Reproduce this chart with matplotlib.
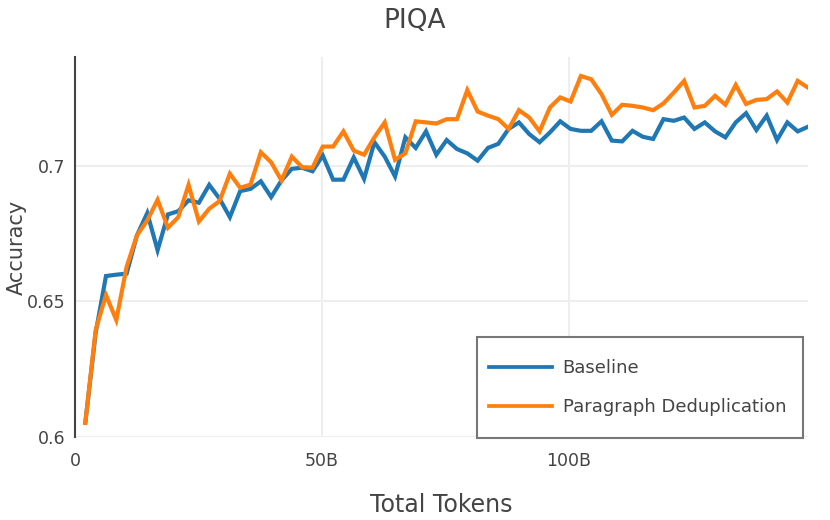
import matplotlib
matplotlib.use("Agg")
import matplotlib.pyplot as plt
from matplotlib.patches import Rectangle
from matplotlib.ticker import FuncFormatter

plt.rcParams['font.family'] = ['DejaVu Sans']

# tokens seen (billions) at each evaluation step
tokens_b = [2.09, 4.18, 6.27, 8.36, 10.45, 12.54, 14.63, 16.72, 18.81, 20.9,
            22.99, 25.08, 27.17, 29.26, 31.35, 33.44, 35.53, 37.62, 39.71, 41.8,
            43.89, 45.98, 48.07, 50.16, 52.25, 54.34, 56.43, 58.52, 60.61, 62.7,
            64.79, 66.88, 68.97, 71.06, 73.15, 75.24, 77.33, 79.42, 81.51, 83.6,
            85.69, 87.78, 89.87, 91.96, 94.05, 96.14, 98.23, 100.32, 102.41, 104.5,
            106.59, 108.68, 110.77, 112.86, 114.95, 117.04, 119.13, 121.22, 123.31, 125.4,
            127.49, 129.58, 131.67, 133.76, 135.85, 137.94, 140.03, 142.12, 144.21, 146.3,
            148.39]

baseline = [0.6053, 0.6383, 0.6593, 0.6598, 0.6602, 0.6743, 0.6825, 0.6688, 0.6820, 0.6832,
            0.6872, 0.6863, 0.6929, 0.6878, 0.6810, 0.6906, 0.6914, 0.6942, 0.6884, 0.6945,
            0.6988, 0.6992, 0.6979, 0.7037, 0.6948, 0.6948, 0.7030, 0.6951, 0.7086, 0.7033,
            0.6960, 0.7104, 0.7065, 0.7126, 0.7040, 0.7094, 0.7061, 0.7045, 0.7018, 0.7065,
            0.7080, 0.7135, 0.7159, 0.7116, 0.7086, 0.7122, 0.7163, 0.7135, 0.7128, 0.7128,
            0.7163, 0.7092, 0.7089, 0.7128, 0.7106, 0.7098, 0.7171, 0.7165, 0.7177, 0.7135,
            0.7159, 0.7126, 0.7104, 0.7159, 0.7193, 0.7131, 0.7184, 0.7094, 0.7159, 0.7126,
            0.7143]

para_dedup = [0.6052, 0.6394, 0.6523, 0.6431, 0.6627, 0.6743, 0.6798, 0.6874, 0.6771, 0.6810,
              0.6929, 0.6794, 0.6841, 0.6869, 0.6970, 0.6918, 0.6930, 0.7049, 0.7012, 0.6945,
              0.7033, 0.6994, 0.6992, 0.7070, 0.7070, 0.7126, 0.7055, 0.7040, 0.7104, 0.7159,
              0.7021, 0.7045, 0.7163, 0.7159, 0.7155, 0.7171, 0.7171, 0.7278, 0.7199, 0.7184,
              0.7171, 0.7135, 0.7204, 0.7177, 0.7126, 0.7214, 0.7251, 0.7236, 0.7330, 0.7318,
              0.7263, 0.7187, 0.7224, 0.7220, 0.7214, 0.7204, 0.7229, 0.7269, 0.7312, 0.7214,
              0.7220, 0.7257, 0.7224, 0.7297, 0.7227, 0.7242, 0.7245, 0.7273, 0.7232, 0.7312,
              0.7287]

x_ticks = [0, 50, 100]
y_ticks = [0.6, 0.65, 0.7]

text_color = '#444444'

fig = plt.figure(figsize=(8.3, 5.2), dpi=100)
ax = fig.add_axes([75 / 830, 1 - 437 / 520, 733 / 830, 380 / 520])

ax.plot(tokens_b, baseline, color='#1f77b4', linewidth=3, label='Baseline',
        solid_joinstyle='miter')
ax.plot(tokens_b, para_dedup, color='#ff7f0e', linewidth=3, label='Paragraph Deduplication',
        solid_joinstyle='miter')

ax.set_xlim(0, tokens_b[-1])
ax.set_ylim(0.6, 0.74)
ax.set_xticks(x_ticks)
ax.set_yticks(y_ticks)
ax.xaxis.set_major_formatter(FuncFormatter(lambda v, p: '0' if v == 0 else f'{v:g}B'))
ax.yaxis.set_major_formatter(FuncFormatter(lambda v, p: f'{v:g}'))

ax.grid(True, color='#eeeeee', linewidth=1.5)
ax.set_axisbelow(True)
for side in ['top', 'right', 'bottom']:
    ax.spines[side].set_visible(False)
ax.spines['left'].set_color(text_color)
ax.spines['left'].set_linewidth(1.5)
ax.tick_params(axis='both', length=0, labelsize=12.5, labelcolor=text_color)
ax.tick_params(axis='y', pad=7)
ax.tick_params(axis='x', pad=11)

ax.set_xlabel('Total Tokens', fontsize=17, color=text_color)
ax.xaxis.set_label_coords(0.5, -0.18)
ax.xaxis.label.set_va('center')
ax.set_ylabel('Accuracy', fontsize=15, color=text_color)
ax.yaxis.set_label_coords(-0.08, 0.5)
ax.yaxis.label.set_va('center')

fig.text(0.5, 1 - 28 / 520, 'PIQA', ha='center', va='baseline', fontsize=19, color=text_color)

# legend box (plotly style: square frame, wide padding)
box_x0, box_x1 = 0.5489, 0.9936
box_y0, box_y1 = -0.0034, 0.2639
ax.add_patch(Rectangle((box_x0, box_y0), box_x1 - box_x0, box_y1 - box_y0,
                       transform=ax.transAxes, facecolor='white', edgecolor='#777777',
                       linewidth=1.5, zorder=4, clip_on=False))
leg = ax.legend(loc='center', bbox_to_anchor=((box_x0 + box_x1) / 2 - 0.004, (box_y0 + box_y1) / 2),
                borderaxespad=0, fontsize=13, handlelength=3.5, handletextpad=0.6,
                borderpad=0, labelspacing=1.15, frameon=False)
leg.set_zorder(5)
for t in leg.get_texts():
    t.set_color(text_color)
for h in leg.get_lines():
    h.set_linewidth(2.7)

fig.savefig('out.png', dpi=100)
